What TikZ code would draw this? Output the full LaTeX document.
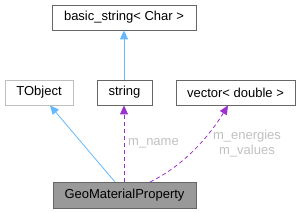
\documentclass[tikz,border=0pt]{standalone}
\usepackage{fontspec}
\setmainfont{Liberation Sans}
\usetikzlibrary{arrows.meta}
\definecolor{edgeblue}{HTML}{63B8FF}
\definecolor{edgepurple}{HTML}{9A32CD}
\definecolor{boxgray}{HTML}{666666}
\definecolor{lightbox}{HTML}{BFBFBF}
\definecolor{labelgray}{HTML}{C0C0C0}
\definecolor{mainfill}{HTML}{999999}
\begin{document}
\begin{tikzpicture}[x=1pt,y=-1pt,
  cls/.style={draw=boxgray, line width=0.8pt, fill=white, inner sep=0pt, font=\fontsize{13}{15}\selectfont},
  inh/.style={draw=edgeblue, line width=0.8pt, -{Triangle[length=9pt,width=8pt,fill=edgeblue]}},
  use/.style={draw=edgepurple, line width=0.8pt, dash pattern=on 4pt off 3pt, -{Triangle[length=9pt,width=8pt,fill=edgepurple]}},
  lbl/.style={text=labelgray, font=\fontsize{13}{15}\selectfont, align=center, inner sep=0pt}]
\useasboundingbox (0,0) rectangle (300,213);
\node[cls, minimum width=144pt, minimum height=25pt] (basic) at (124,17.5) {basic\_string< Char >};
\node[cls, draw=lightbox, minimum width=68pt, minimum height=25pt] (tobject) at (39,92.5) {TObject};
\node[cls, minimum width=55pt, minimum height=25pt] (string) at (124.5,92.5) {string};
\node[cls, minimum width=119pt, minimum height=25pt] (vector) at (235.5,92.5) {vector< double >};
\node[cls, fill=mainfill, minimum width=143pt, minimum height=26pt] (gmp) at (124.5,195) {GeoMaterialProperty};
\coordinate (gA) at (115,182);
\coordinate (gB) at (124,182);
\coordinate (gC) at (150,182);
\draw[inh] (string.north -| basic.south) -- (basic.south);
\draw[inh] (gA) -- (tobject.south -| 50,0);
\draw[use] (gB) -- (string.south -| gB);
\draw[use] (gC) .. controls (185,165) and (210,135) .. (vector.south -| 228,0);
\node[lbl, anchor=west] (lname) at (128,143) {m\_name};
\node[lbl] (lvals) at (247,143.5) {m\_energies\\m\_values};
\end{tikzpicture}
\end{document}
